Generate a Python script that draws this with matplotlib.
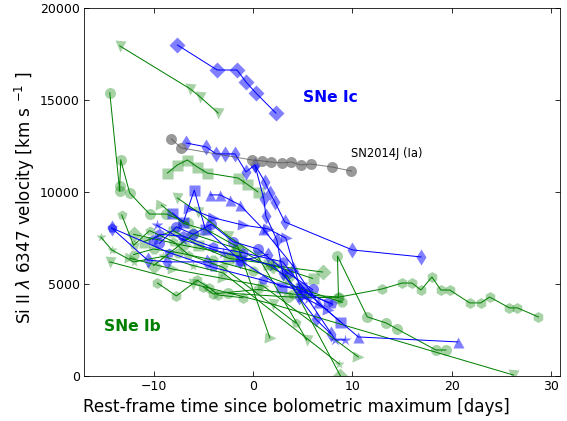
import matplotlib
matplotlib.use("Agg")
import matplotlib.pyplot as plt

# ---- data (time [days], velocity [km/s]) ----
# SNe Ic (blue)
ic_D_t = [-7.6, -3.6, -1.6, -0.7, 0.3, 2.3]
ic_D_v = [17990, 16630, 16630, 15980, 15380, 14290]

ic_d_t = [-6.7, -4.7, -3.7, -2.8, -1.8, -0.7, 0.2, 1.2, 1.7, 2.2, 3.2, 10.0, 16.9]
ic_d_v = [12660, 12450, 12070, 12070, 12070, 11090, 11470, 10540, 9950, 9460, 8370, 6850, 6470]

ic_d2_t = [0.2, 1.1, 1.3, 2.4, 3.0, 4.6, 6.3, 7.8]
ic_d2_v = [11470, 9600, 8700, 7400, 5600, 4300, 3100, 2300]

ic_s_t = [-8.1, -7.0, -5.9, -4.8, -1.3, 2.8, 4.8, 8.8]
ic_s_v = [8860, 8370, 10100, 8000, 6300, 4840, 4840, 2935]

ic_tri_t = [-4.3, -3.3, -2.3, -1.3, 1.0, 4.0, 6.5, 10.6, 20.6]
ic_tri_v = [9840, 9840, 9570, 9290, 8000, 6000, 4000, 2120, 1850]

ic_star_t = [-9.7, -7.0, -3.0, 2.0, 5.5, 8.3, 9.3]
ic_star_v = [8200, 7400, 6700, 6000, 4200, 1960, 1960]

ic_Dm_t = [-14.2, -10.6, -8.6, -4.6, -1.3, 1.5]
ic_Dm_v = [8040, 6300, 6200, 6200, 6250, 6600]

ic_Dm2_t = [-14.2, -8.4, -4.0, 1.0, 5.0, 8.0]
ic_Dm2_v = [8040, 6700, 5900, 5200, 4600, 3900]

ic_h_t = [-10.1, -9.4, -7.0, -4.0, -1.0, 3.0, 5.5, 7.5]
ic_h_v = [7400, 7700, 7600, 7000, 6700, 6200, 4500, 4000]

ic_o_t = [-9.4, -7.7, -6.0, -4.2, -2.0, 0.5, 3.5, 6.0]
ic_o_v = [7200, 8100, 7700, 8250, 7300, 6900, 5600, 4700]

ic_r_t = [-6.4, -4.0, -1.0, 1.5, 3.3, 5.0, 7.5]
ic_r_v = [9100, 8600, 8200, 8000, 7500, 4300, 3600]

# SN2014J (Ia, gray)
ia_t = [-8.2, -7.2, -0.1, 0.9, 1.8, 2.9, 3.8, 4.8, 5.8, 7.9, 9.9]
ia_v = [12880, 12390, 11740, 11690, 11630, 11580, 11630, 11470, 11520, 11360, 11140]

# SNe Ib (green)
ib_v1_t = [-13.4, -6.3, -5.3, -3.5]
ib_v1_v = [17940, 15600, 15160, 14290]

ib_o1_t = [-14.4, -13.4, -13.4, -13.3, -12.4, -10.4, -8.7, -6.5]
ib_o1_v = [15400, 10050, 10300, 11750, 9950, 8800, 8800, 8300]

ib_s1_t = [-8.6, -7.6, -6.6, -5.6, -4.6, -1.5, -0.6, 0.5]
ib_s1_v = [11030, 11470, 11740, 11360, 11030, 10760, 10430, 10000]

ib_h1_t = [-5.0, -4.0, 0.5, 4.0, 8.7, 13.0, 15.0, 16.0, 16.9, 18.0, 18.9, 19.8, 21.8, 22.9, 23.8, 25.8, 26.6, 28.7]
ib_h1_v = [4840, 4460, 4700, 4450, 4290, 4730, 5050, 5050, 4670, 5380, 4670, 4670, 3970, 3970, 4290, 3700, 3700, 3210]

ib_o2_t = [-2.5, 3.5, 8.6, 8.5, 11.5, 13.4, 14.5, 18.4, 19.4]
ib_o2_v = [4500, 4300, 4250, 6520, 3210, 2880, 2550, 1410, 1410]

ib_v2_t = [-14.4, -6.0, 2.0, 26.2]
ib_v2_v = [6200, 5000, 3900, 50]

ib_star_t = [-15.3, -14.2, -12.0, -9.0, -6.0, -3.0, 8.7]
ib_star_v = [7550, 6850, 6200, 6500, 6000, 5600, 650]

ib_p_t = [-13.2, -12.0, -10.4, -8.0, -6.5, -3.0, 4.3]
ib_p_v = [8750, 7100, 7900, 7300, 6600, 5900, 2880]

ib_r_t = [-9.2, -7.0, -4.5, -1.5, 1.7]
ib_r_v = [9290, 8300, 7900, 7000, 2070]

ib_v3_t = [-7.6, -5.5, -2.5, 0.5, 5.4]
ib_v3_v = [9670, 8900, 7600, 6500, 1960]

ib_D_t = [-12.0, -7.0, -2.0, 2.0, 7.0]
ib_D_v = [7700, 7100, 6600, 6000, 5650]

ib_D2_t = [-10.0, -6.0, -1.5, 3.5, 8.8]
ib_D2_v = [6000, 7700, 6900, 5400, 0]

ib_r2_t = [-12.4, -8.0, -3.0, 1.0, 10.6]
ib_r2_v = [6400, 5800, 5300, 4900, 1030]

ib_h2_t = [-9.6, -7.7, -5.6, -4.4, -3.5, -1.0]
ib_h2_v = [5050, 4350, 5200, 4800, 4400, 4250]

ib_8_t = [-12.0, -10.0, -7.5, -4.0, 0.0, 4.5, 9.0]
ib_8_v = [6600, 6900, 6700, 6300, 5700, 4800, 4000]

ib_s2_t = [-11.0, -8.0, -5.5, -2.5, 1.5, 6.0]
ib_s2_v = [7300, 7900, 7100, 6400, 6100, 5300]

xticks = [-10, 0, 10, 20, 30]
yticks = [0, 5000, 10000, 15000, 20000]

# ---- plot ----
fig = plt.figure(figsize=(567/72, 421/72), dpi=72)
ax = fig.add_axes([0.148, 0.107, 0.840, 0.874])

G = (0, 0.5, 0)
B = (0, 0, 1)

def series(t, v, m, c, ms, alpha):
    ax.plot(t, v, '-', color=c, lw=1, zorder=3)
    ax.plot(t, v, m, color=c, ms=ms, alpha=alpha, mec='none', zorder=2)

green = [
    (ib_v1_t, ib_v1_v, 'v'), (ib_o1_t, ib_o1_v, 'o'), (ib_s1_t, ib_s1_v, 's'),
    (ib_h1_t, ib_h1_v, 'h'), (ib_o2_t, ib_o2_v, 'o'), (ib_v2_t, ib_v2_v, 'v'),
    (ib_star_t, ib_star_v, '*'), (ib_p_t, ib_p_v, 'p'), (ib_r_t, ib_r_v, '>'),
    (ib_v3_t, ib_v3_v, 'v'), (ib_D_t, ib_D_v, 'D'), (ib_D2_t, ib_D2_v, 'D'),
    (ib_r2_t, ib_r2_v, '>'), (ib_h2_t, ib_h2_v, 'h'), (ib_8_t, ib_8_v, '8'),
    (ib_s2_t, ib_s2_v, 's'),
]
for t, v, m in green:
    series(t, v, m, G, 11, 0.35)

blue = [
    (ic_D_t, ic_D_v, 'D', 11), (ic_d_t, ic_d_v, 'd', 12), (ic_d2_t, ic_d2_v, 'd', 12),
    (ic_s_t, ic_s_v, 's', 11), (ic_tri_t, ic_tri_v, '^', 11), (ic_star_t, ic_star_v, '*', 12),
    (ic_Dm_t, ic_Dm_v, 'd', 12), (ic_Dm2_t, ic_Dm2_v, 'p', 11), (ic_h_t, ic_h_v, 'h', 11),
    (ic_o_t, ic_o_v, 'o', 11), (ic_r_t, ic_r_v, '>', 11),
]
for t, v, m, ms in blue:
    series(t, v, m, B, ms, 0.5)

ax.plot(ia_t, ia_v, '-', color='0.3', lw=1, alpha=0.7, zorder=3)
ax.plot(ia_t, ia_v, 'o', color='0.5', ms=11, alpha=0.8, mec='none', zorder=2)

ax.text(9.9, 11900, 'SN2014J (Ia)', fontsize=11.5, ha='left', va='baseline')
ax.text(5.0, 15150, 'SNe Ic', fontsize=15.5, fontweight='bold', color='blue', va='center')
ax.text(-15.0, 2700, 'SNe Ib', fontsize=15.5, fontweight='bold', color='green', va='center')

ax.set_xlim(-17.0, 30.9)
ax.set_ylim(0, 20000)
ax.set_xticks(xticks)
ax.set_yticks(yticks)
ax.set_xticklabels(['\u221210', '0', '10', '20', '30'])
ax.tick_params(direction='in', top=True, right=True, length=5, labelsize=12.5, pad=4)
ax.set_xlabel('Rest-frame time since bolometric maximum [days]', fontsize=16.7)
ax.set_ylabel(r'Si II $\lambda$ 6347 velocity [km s$\ ^{-1}$ ]', fontsize=16.7)
ax.xaxis.set_label_coords(0.447, -0.059, transform=ax.transAxes)
ax.xaxis.label.set_va('top')
ax.yaxis.set_label_coords(-0.099, 0.484, transform=ax.transAxes)

fig.savefig('out.png', dpi=72)
